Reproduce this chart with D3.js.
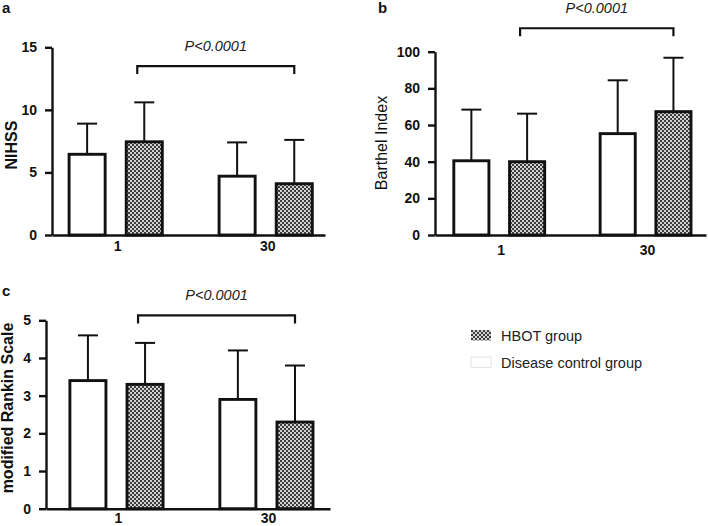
<!DOCTYPE html>
<html><head><meta charset="utf-8">
<script src="https://cdn.jsdelivr.net/npm/d3@7"></script>
<style>body{margin:0;background:#fff}svg{display:block}text{font-family:Arial,"Liberation Sans",sans-serif}</style>
</head><body><svg id="c" width="708" height="526"></svg>
<script>
// ---- data ----
const days = ["1", "30"];
const groups = ["control", "hbot"];
const groupLabels = ["HBOT group", "Disease control group"];
const pLabel = "P<0.0001";

const nihssControl = [6.45, 4.7];
const nihssControlSD = [2.45, 2.7];
const nihssHbot = [7.45, 4.1];
const nihssHbotSD = [3.15, 3.5];
const nihssTicks = [0, 5, 10, 15];
const nihssBracket = 13.5;

const barthelControl = [40.5, 55.3];
const barthelControlSD = [27.9, 29.1];
const barthelHbot = [40, 67.3];
const barthelHbotSD = [26.2, 29.4];
const barthelTicks = [0, 20, 40, 60, 80, 100];
const barthelBracket = 112.8;

const mrsControl = [3.4, 2.9];
const mrsControlSD = [1.2, 1.3];
const mrsHbot = [3.3, 2.3];
const mrsHbotSD = [1.1, 1.5];
const mrsTicks = [0, 1, 2, 3, 4, 5];
const mrsBracket = 5.13;

// ---- drawing ----
const svg = d3.select("#c");
svg.append("rect").attr("width", 708).attr("height", 526).attr("fill", "#fff");

const defs = svg.append("defs");
const pat = defs.append("pattern").attr("id", "chk").attr("patternUnits", "userSpaceOnUse")
  .attr("width", 4).attr("height", 4);
pat.append("rect").attr("width", 4).attr("height", 4).attr("fill", "#d2d2d2");
pat.append("rect").attr("width", 2).attr("height", 2).attr("fill", "#3c3c3c");
pat.append("rect").attr("x", 2).attr("y", 2).attr("width", 2).attr("height", 2).attr("fill", "#3c3c3c");

function panel(cfg) {
  const g = svg.append("g");
  const x = d3.scalePoint().domain(days).range([cfg.x0, cfg.x1]).padding(cfg.pad).align(cfg.align);
  const step = x.step();
  const xi = d3.scaleBand().domain(groups).range([-0.33 * step, 0.31 * step]).paddingInner(0.32);
  const y = d3.scaleLinear().domain([0, d3.max(cfg.ticks)]).range([cfg.yb, cfg.yt]);

  const rows = [];
  days.forEach((d, i) => {
    rows.push({day: d, grp: "control", v: cfg.control[i], sd: cfg.controlSD[i]});
    rows.push({day: d, grp: "hbot", v: cfg.hbot[i], sd: cfg.hbotSD[i]});
  });

  // error bars
  const eb = g.selectAll(".eb").data(rows).enter().append("g");
  eb.append("line")
    .attr("x1", d => x(d.day) + xi(d.grp) + xi.bandwidth() / 2)
    .attr("x2", d => x(d.day) + xi(d.grp) + xi.bandwidth() / 2)
    .attr("y1", d => y(d.v)).attr("y2", d => y(d.v + d.sd))
    .attr("stroke", "#111").attr("stroke-width", 2);
  eb.append("line")
    .attr("x1", d => x(d.day) + xi(d.grp) + xi.bandwidth() / 2 - 10)
    .attr("x2", d => x(d.day) + xi(d.grp) + xi.bandwidth() / 2 + 10)
    .attr("y1", d => y(d.v + d.sd)).attr("y2", d => y(d.v + d.sd))
    .attr("stroke", "#111").attr("stroke-width", 2);

  // bars
  g.selectAll(".bar").data(rows).enter().append("rect")
    .attr("x", d => x(d.day) + xi(d.grp) + 1.4)
    .attr("width", xi.bandwidth() - 2.8)
    .attr("y", d => y(d.v))
    .attr("height", d => y(0) - y(d.v))
    .attr("fill", d => d.grp === "hbot" ? "url(#chk)" : "#fff")
    .attr("stroke", "#111").attr("stroke-width", 2.9);

  // y axis
  const ya = g.append("g").attr("transform", `translate(${cfg.x0},0)`)
    .call(d3.axisLeft(y).tickValues(cfg.ticks).tickFormat(d3.format("d")).tickSize(7).tickSizeOuter(0).tickPadding(8));
  ya.select(".domain").attr("stroke", "#111").attr("stroke-width", 2.4);
  ya.selectAll(".tick line").attr("stroke", "#111").attr("stroke-width", 2.4);
  ya.selectAll(".tick text").attr("font-size", 14).attr("font-weight", "bold").attr("fill", "#111")
    .attr("font-family", "Arial, 'Liberation Sans', sans-serif");

  // x axis
  const xa = g.append("g").attr("transform", `translate(0,${cfg.yb})`)
    .call(d3.axisBottom(x).tickSize(0).tickSizeOuter(0).tickPadding(cfg.xpad));
  xa.select(".domain").attr("stroke", "#111").attr("stroke-width", 2.4);
  xa.selectAll(".tick text").attr("font-size", 14).attr("font-weight", "bold").attr("fill", "#111")
    .attr("font-family", "Arial, 'Liberation Sans', sans-serif");

  // bracket
  const bx1 = x(days[0]) + xi("hbot") + xi.bandwidth() / 2 - 7;
  const bx2 = x(days[1]) + xi("hbot") + xi.bandwidth() / 2;
  const by = y(cfg.bracket);
  g.append("path").attr("d", `M${bx1},${by + 8}V${by}H${bx2}V${by + 8}`)
    .attr("fill", "none").attr("stroke", "#111").attr("stroke-width", 2.2);
  g.append("text").attr("x", (bx1 + bx2) / 2).attr("y", by - 15)
    .attr("text-anchor", "middle").attr("font-size", 14.5).attr("font-style", "italic")
    .attr("fill", "#222").text(pLabel);

  // y label
  g.append("text").attr("transform", `translate(${cfg.lx},${cfg.ly}) rotate(-90)`)
    .attr("text-anchor", "middle").attr("font-size", 16)
    .attr("font-weight", cfg.lw).attr("fill", "#111").text(cfg.label);

  // panel letter
  g.append("text").attr("x", cfg.px).attr("y", cfg.py).attr("font-size", 15)
    .attr("font-weight", "bold").attr("fill", "#111").text(cfg.letter);
}

panel({letter: "a", px: 2, py: 13, label: "NIHSS", lw: "bold", lx: 17, ly: 145,
  x0: 52, x1: 325, yt: 47.3, yb: 235, xpad: 6, pad: 0.41, align: 0.53,
  ticks: nihssTicks, control: nihssControl, controlSD: nihssControlSD,
  hbot: nihssHbot, hbotSD: nihssHbotSD, bracket: nihssBracket});

panel({letter: "b", px: 378, py: 13, label: "Barthel Index", lw: "normal", lx: 387, ly: 143,
  x0: 435, x1: 706, yt: 51.7, yb: 235, xpad: 10, pad: 0.426, align: 0.527,
  ticks: barthelTicks, control: barthelControl, controlSD: barthelControlSD,
  hbot: barthelHbot, hbotSD: barthelHbotSD, bracket: barthelBracket});

panel({letter: "c", px: 2, py: 296, label: "modified Rankin Scale", lw: "bold", lx: 13, ly: 408,
  x0: 46, x1: 330, yt: 320.3, yb: 508.7, xpad: 4, pad: 0.447, align: 0.537,
  ticks: mrsTicks, control: mrsControl, controlSD: mrsControlSD,
  hbot: mrsHbot, hbotSD: mrsHbotSD, bracket: mrsBracket});

// legend
const lg = svg.append("g").attr("transform", "translate(471,330)");
const fills = ["url(#chk)", "#fff"];
const strokes = ["none", "#e4e4e4"];
groupLabels.forEach((lab, i) => {
  lg.append("rect").attr("x", 0).attr("y", i * 27).attr("width", 20).attr("height", 10.5)
    .attr("fill", fills[i]).attr("stroke", strokes[i]).attr("stroke-width", 1);
  lg.append("text").attr("x", 30).attr("y", i * 27 + 10.5).attr("font-size", 14.5)
    .attr("fill", "#222").text(lab);
});
</script></body></html>
